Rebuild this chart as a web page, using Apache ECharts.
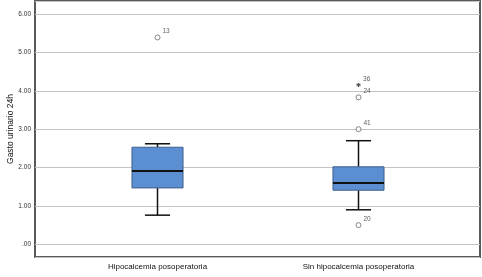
<!DOCTYPE html>
<html>
<head>
<meta charset="utf-8">
<script src="https://cdn.jsdelivr.net/npm/echarts@6/dist/echarts.min.js"></script>
<style>
  html, body { margin: 0; padding: 0; background: #fff; }
  #chart { width: 482px; height: 277px; }
</style>
</head>
<body>
<div id="chart"></div>
<script>
// datos
const categories = ['Hipocalcemia posoperatoria', 'Sin hipocalcemia posoperatoria']
// [mín, Q1, mediana, Q3, máx]
const boxStats = [
  [0.76, 1.47, 1.91, 2.53, 2.62],
  [0.90, 1.41, 1.60, 2.02, 2.70]
]
const outlierGroup = [0, 1, 1, 1, 1]
const outlierValue = [5.39, 4.15, 3.83, 3.00, 0.50]
const outlierCase = ['13', '36', '24', '41', '20']
const outlierExtreme = [false, true, false, false, false]

const yMin = -0.33
const yMax = 6.34
const font = 'Liberation Sans, Arial, sans-serif'

const chart = echarts.init(document.getElementById('chart'))

const renderBox = (params, api) => {
  const x = api.value(0)
  const lo = api.coord([x, api.value(1)])
  const q1 = api.coord([x, api.value(2)])
  const med = api.coord([x, api.value(3)])
  const q3 = api.coord([x, api.value(4)])
  const hi = api.coord([x, api.value(5)])
  const band = api.size([1, 0])[0]
  const bw = band * 0.254
  const cw = band * 0.125
  const cx = lo[0]
  const ink = { stroke: '#111', lineWidth: 1.5 }
  return {
    type: 'group',
    children: [
      { type: 'line', shape: { x1: cx, y1: q3[1], x2: cx, y2: hi[1] }, style: ink },
      { type: 'line', shape: { x1: cx, y1: q1[1], x2: cx, y2: lo[1] }, style: ink },
      { type: 'line', shape: { x1: cx - cw / 2, y1: hi[1], x2: cx + cw / 2, y2: hi[1] }, style: ink },
      { type: 'line', shape: { x1: cx - cw / 2, y1: lo[1], x2: cx + cw / 2, y2: lo[1] }, style: ink },
      {
        type: 'rect',
        shape: { x: cx - bw / 2, y: q3[1], width: bw, height: q1[1] - q3[1] },
        style: { fill: '#5b8fd1', stroke: '#3d5f8c', lineWidth: 1 }
      },
      { type: 'line', shape: { x1: cx - bw / 2, y1: med[1], x2: cx + bw / 2, y2: med[1] }, style: { stroke: '#111', lineWidth: 2 } }
    ]
  }
}

const option = {
  animation: false,
  grid: [
    { left: 35, right: 2, top: 1, bottom: 20, show: true, borderColor: '#5a5a5a', borderWidth: 2, outerBoundsMode: 'none', containLabel: false },
    { left: 57, right: 23, top: 1, bottom: 20, outerBoundsMode: 'none', containLabel: false }
  ],
  xAxis: [
    { gridIndex: 0, type: 'category', data: [''], show: false },
    {
      gridIndex: 1,
      type: 'category',
      data: categories,
      axisLine: { show: false },
      axisTick: { show: false },
      axisLabel: { color: '#111', fontSize: 8, fontFamily: font, margin: 6 }
    }
  ],
  yAxis: [
    {
      gridIndex: 0,
      type: 'value',
      min: yMin,
      max: yMax,
      splitNumber: 6,
      name: 'Gasto urinario 24h',
      nameLocation: 'middle',
      nameGap: 20,
      nameMoveOverlap: false,
      nameTextStyle: { color: '#111', fontSize: 8.5, fontFamily: font },
      axisLine: { show: false },
      axisTick: { show: false },
      splitLine: { lineStyle: { color: '#c4c4c4', width: 1 } },
      axisLabel: {
        color: '#333',
        fontSize: 6.5,
        fontFamily: font,
        margin: 4,
        showMinLabel: false,
        showMaxLabel: false,
        formatter: v => v.toFixed(2).replace(/^0/, '')
      }
    },
    { gridIndex: 1, type: 'value', min: yMin, max: yMax, show: false }
  ],
  series: [
    {
      type: 'custom',
      xAxisIndex: 1,
      yAxisIndex: 1,
      renderItem: renderBox,
      data: boxStats.map((s, i) => [i, ...s])
    },
    {
      type: 'scatter',
      xAxisIndex: 1,
      yAxisIndex: 1,
      data: outlierValue.map((v, i) => ({
        value: [outlierGroup[i], v],
        symbol: outlierExtreme[i]
          ? 'path://M0,-1L0,1M-0.87,-0.5L0.87,0.5M-0.87,0.5L0.87,-0.5'
          : 'circle',
        symbolSize: outlierExtreme[i] ? 4 : 5,
        itemStyle: outlierExtreme[i] ? { borderWidth: 1.2, borderColor: '#222' } : undefined,
        label: { formatter: outlierCase[i] }
      })),
      itemStyle: { color: '#fff', borderColor: '#444', borderWidth: 0.8 },
      label: {
        show: true,
        position: 'right',
        offset: [0, -6],
        distance: 2,
        color: '#333',
        fontSize: 6.5,
        fontFamily: font
      }
    }
  ]
}

chart.setOption(option)
</script>
</body>
</html>
